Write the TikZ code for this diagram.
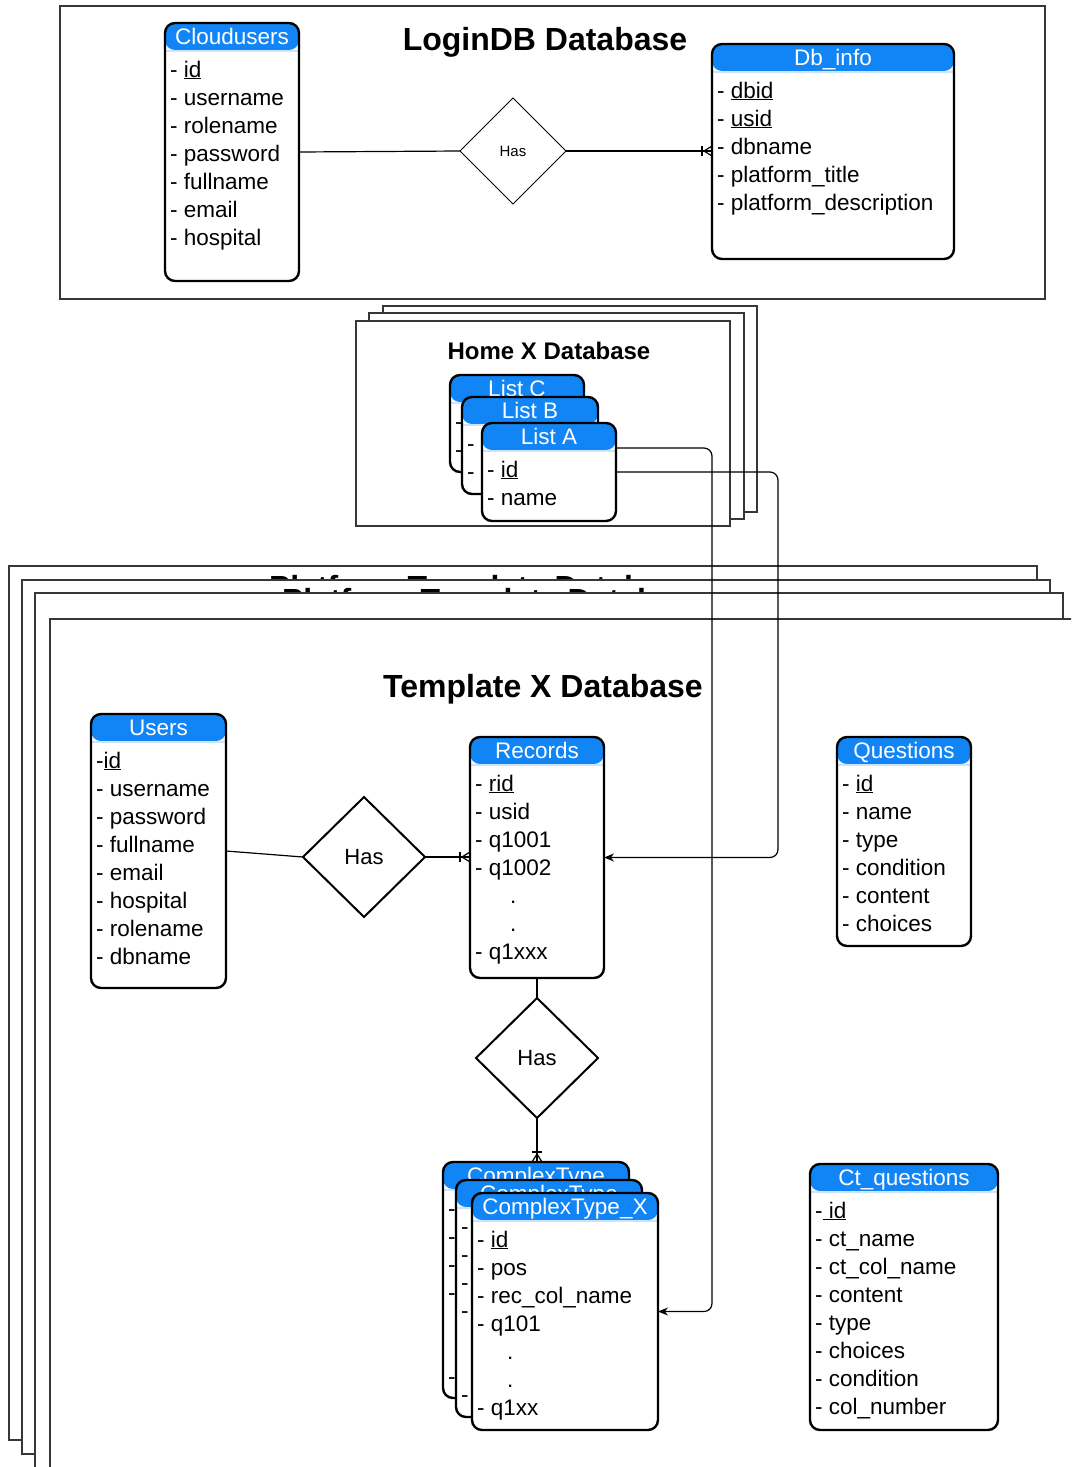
\documentclass[tikz,border=0pt]{standalone}
\usepackage{fontspec}
\setmainfont{Liberation Sans}
\usetikzlibrary{shapes.geometric,arrows.meta,calc}

\definecolor{hdr}{RGB}{17,133,245}
\definecolor{hdrline}{RGB}{205,228,252}
\definecolor{frameline}{RGB}{55,55,55}

\tikzset{
  erbox/.style={draw=black, line width=2.4pt, rounded corners=10pt, fill=white,
    inner sep=0pt, outer sep=0pt, anchor=north west,
    path picture={
      \fill[hdr] (path picture bounding box.north west) rectangle
        ([yshift=-27pt]path picture bounding box.north east);
      \draw[hdrline, line width=1.5pt]
        ([yshift=-28pt]path picture bounding box.north west) --
        ([yshift=-28pt]path picture bounding box.north east);}},
  erhead/.style={anchor=base, inner sep=0pt, text=white, font=\fontsize{22.5}{26}\selectfont},
  eritem/.style={anchor=base west, inner sep=0pt, font=\fontsize{22.5}{26}\selectfont},
  dbframe/.style={draw=frameline, line width=1.3pt, fill=white},
  bigtitle/.style={anchor=base, inner sep=0pt, font=\fontsize{32}{38}\selectfont\bfseries},
  midtitle/.style={anchor=base, inner sep=0pt, font=\fontsize{24}{29}\selectfont\bfseries},
  relsmall/.style={diamond, draw=black, line width=1pt, fill=white, inner sep=0pt,
    outer sep=0pt, font=\fontsize{15}{18}\selectfont},
  relbig/.style={diamond, draw=black, line width=2pt, fill=white, inner sep=0pt,
    outer sep=0pt, font=\fontsize{22}{26}\selectfont},
  conn/.style={draw=black, line width=1.2pt},
  tip/.style={-{Stealth[length=10pt,width=8pt]}},
}

% #1 name, #2 x, #3 y, #4 width, #5 height, #6 title, #7 attribute list
\newcommand\erentity[7]{%
  \node[erbox, minimum width=#4pt, minimum height=#5pt] (#1) at (#2,#3) {};
  \node[erhead] (#1-t) at ([yshift=-21pt]#1.north) {#6};
  \foreach \itm [count=\idx from 0] in {#7}
    \node[eritem] (#1-\idx) at ([xshift=5pt,yshift={-(54+28*\idx)*1pt}]#1.north west) {\itm};
}

% crow's foot (one or many) on an entity entered from the left
\newcommand\crowleft[1]{%
  \draw[conn] ([xshift=-10pt,yshift=5pt]#1) -- ([xshift=-10pt,yshift=-5pt]#1);
  \draw[conn] ([xshift=-8pt]#1) -- ([yshift=5pt]#1);
  \draw[conn] ([xshift=-8pt]#1) -- ([yshift=-5pt]#1);
}
% crow's foot on an entity entered from above
\newcommand\crowtop[1]{%
  \draw[conn] ([xshift=-5pt,yshift=10pt]#1) -- ([xshift=5pt,yshift=10pt]#1);
  \draw[conn] ([yshift=8pt]#1) -- ([xshift=-5pt]#1);
  \draw[conn] ([yshift=8pt]#1) -- ([xshift=5pt]#1);
}

\begin{document}
\begin{tikzpicture}[x=1pt,y=-1pt]
\useasboundingbox (0,0) rectangle (1071,1467);
\clip (0,0) rectangle (1071,1467);
\fill[white] (0,0) rectangle (1071,1467);

% ---------------- LoginDB ----------------
\draw[dbframe] (60,6) rectangle (1045,299);
\node[bigtitle] (logintitle) at (545,50) {LoginDB Database};

\erentity{cloud}{165}{23}{134}{258}{Cloudusers}%
  {- \underline{id}, - username, - rolename, - password, - fullname, - email, - hospital}
\erentity{dbinfo}{712}{44}{242}{215}{Db\_info}%
  {- \underline{dbid}, - \underline{usid}, - dbname, - platform\_title, - platform\_description}
\node[relsmall, minimum width=106pt, minimum height=106pt] (hasA) at (513,151) {Has};

% ---------------- Home X ----------------
\draw[dbframe] (383,306) rectangle (757,512);
\draw[dbframe] (369,313) rectangle (744,519);
\draw[dbframe] (356,321) rectangle (730,526);
\node[midtitle] (hometitle) at (549,359) {Home X Database};

% stacked lists: only the leading dashes of the back ones stay visible
\erentity{listC}{450}{375}{134}{97}{List C}{-, -}
\erentity{listB}{462}{397}{136}{97}{List B}{-, -}
\erentity{listA}{482}{423}{134}{98}{List A}{- \underline{id}, - name}

% ---------------- Template databases ----------------
\draw[dbframe] (9,566) rectangle (1037,1440);
\node[bigtitle] (ptitle1) at (483,598) {Platform Template Database};
\draw[dbframe] (22,580) rectangle (1050,1454);
\node[bigtitle] (ptitle2) at (496,611) {Platform Template Database};
\draw[dbframe] (35,593) rectangle (1063,1480);
\draw[dbframe] (50,619) rectangle (1100,1495);
\node[bigtitle] (ttitle) at (543,697) {Template X Database};

\erentity{users}{91}{714}{135}{274}{Users}%
  {-\underline{id}, - username, - password, - fullname, - email, - hospital, - rolename, - dbname}
\erentity{records}{470}{737}{134}{241}{Records}%
  {- \underline{rid}, - usid, - q1001, - q1002, \hspace*{35pt}., \hspace*{35pt}., - q1xxx}
\erentity{questions}{837}{737}{134}{209}{Questions}%
  {- \underline{id}, - name, - type, - condition, - content, - choices}
\erentity{ctq}{810}{1164}{188}{266}{Ct\_questions}%
  {-\underline{\ id}, - ct\_name, - ct\_col\_name, - content, - type, - choices, - condition, - col\_number}

% stacked complex types
\erentity{ctA}{443}{1162}{186}{236}{ComplexType}{-, -, -, -, {}, {}, -}
\erentity{ctB}{456}{1180}{186}{237}{ComplexType}{-, -, -, -, {}, {}, -}
\erentity{ctx}{472}{1193}{186}{237}{ComplexType\_X}%
  {- \underline{id}, - pos, - rec\_col\_name, - q101, \hspace*{30pt}., \hspace*{30pt}., - q1xx}

\node[relbig, minimum width=122pt, minimum height=120pt] (hasB) at (364,857) {Has};
\node[relbig, minimum width=122pt, minimum height=120pt] (hasC) at (537,1058) {Has};

% ---------------- relationships ----------------
\draw[conn] (cloud.east) -- (hasA.west);
\draw[conn] (hasA.east) -- (hasA.east -| dbinfo.west);
\crowleft{hasA.east -| dbinfo.west}

\draw[conn] (users.east) -- (hasB.west);
\draw[conn] (hasB.east) -- (hasB.east -| records.west);
\crowleft{hasB.east -| records.west}

\draw[conn] (records.south) -- (hasC.north);
\draw[conn] (hasC.south) -- (hasC.south |- ctA.north);
\crowtop{hasC.south |- ctA.north}

% list references into the template tables
\coordinate (busA) at (712,0);
\coordinate (busB) at (778,0);
\draw[conn, tip, rounded corners=8pt] ([yshift=24pt]listA.east) -| (busA |- ctx.east) -- (ctx.east);
\draw[conn, tip, rounded corners=8pt] (listA.east) -| (busB |- records.east) -- (records.east);
\end{tikzpicture}
\end{document}
